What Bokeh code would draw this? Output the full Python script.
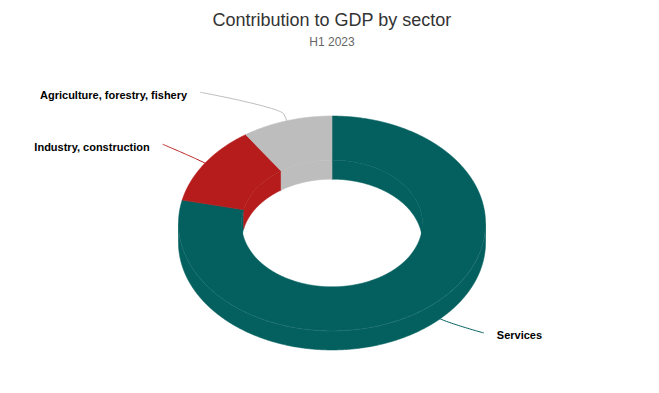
import numpy as np
from bokeh.plotting import figure
from bokeh.models import Range1d, ColumnDataSource
from bokeh.core.properties import value
from bokeh.embed import file_html
from bokeh.resources import INLINE

# ---- data ----
title_text = "Contribution to GDP by sector"
subtitle_text = "H1 2023"
sectors = ["Services", "Industry, construction", "Agriculture, forestry, fishery"]
shares = [78.5, 12.0, 9.5]
colors = ["#03605F", "#B71C1C", "#BDBDBD"]

# ---- layout / style ----
W, H = 643, 377
FONT = "Liberation Sans"
cx, cy = 331.5, 223.0       # donut centre (page px)
RO, RI = 153.5, 90.5        # outer / inner radius
K = 0.70                    # vertical squash of the tilted donut
D = 19.0                    # visible depth of the side wall
label_offset = {            # connector end relative to the break point
    "Services": (49.6, 17.3),
    "Industry, construction": (-34.1, -14.9),
    "Agriculture, forestry, fishery": (-83.8, -21.9),
}
GAP = 13
BASE_FIX = 0.38             # baseline correction (em)

p = figure(width=W, height=H, output_backend="svg", toolbar_location=None,
           x_range=Range1d(0, W), y_range=Range1d(H, 0),
           min_border=0, x_axis_location=None, y_axis_location=None)
p.xgrid.visible = False
p.ygrid.visible = False
p.outline_line_color = None
p.background_fill_color = "white"
p.border_fill_color = "white"


def pt(r, th, z=0.0):
    t = np.radians(th)
    return cx + r * np.sin(t), cy - K * r * np.cos(t) + z


def arc(r, a, b, z=0.0):
    n = max(3, int(abs(b - a) * 2) + 2)
    th = np.linspace(a, b, n)
    x, y = pt(r, th, z)
    return list(x), list(y)


def clip(a, b, lo, hi):
    s, e = max(a, lo), min(b, hi)
    return (s, e) if e > s else None


total = float(sum(shares))
bounds = np.concatenate([[0.0], np.cumsum(shares) / total * 360.0])

iw_x, iw_y, iw_c = [], [], []
ow_x, ow_y, ow_c = [], [], []
tf_x, tf_y, tf_c = [], [], []
for i, c in enumerate(colors):
    a, b = bounds[i], bounds[i + 1]
    for lo, hi in ((0, 90), (270, 360)):
        seg = clip(a, b, lo, hi)
        if seg:
            x1, y1 = arc(RI, seg[0], seg[1], 0)
            x2, y2 = arc(RI, seg[1], seg[0], D)
            iw_x.append(x1 + x2); iw_y.append(y1 + y2); iw_c.append(c)
    seg = clip(a, b, 90, 270)
    if seg:
        x1, y1 = arc(RO, seg[0], seg[1], 0)
        x2, y2 = arc(RO, seg[1], seg[0], D)
        ow_x.append(x1 + x2); ow_y.append(y1 + y2); ow_c.append(c)
    x1, y1 = arc(RO, a, b)
    x2, y2 = arc(RI, b, a)
    tf_x.append(x1 + x2); tf_y.append(y1 + y2); tf_c.append(c)

for xs, ys, cs in ((iw_x, iw_y, iw_c), (ow_x, ow_y, ow_c), (tf_x, tf_y, tf_c)):
    src = ColumnDataSource(dict(xs=xs, ys=ys, c=cs))
    p.patches("xs", "ys", source=src, fill_color="c", line_color="c", line_width=0.6)

# faint seams along top-face edges
sx, sy = arc(RO, 90, 270)
p.line(sx, sy, line_color="white", line_alpha=0.12, line_width=0.7)
sx, sy = arc(RI, -90, 90)
p.line(sx, sy, line_color="white", line_alpha=0.08, line_width=0.7)

# connectors + labels
for i, name in enumerate(sectors):
    a, b = bounds[i], bounds[i + 1]
    m = (a + b) / 2.0
    z = 0.15 * D if np.cos(np.radians(m)) < 0 else 0.0
    ex, ey = pt(RO, m, z)
    bx, by = pt(RO + 10, m, z)
    dx, dy = label_offset[name]
    lx, ly = bx + dx, by + dy
    c1x, c1y = lx, ly
    c2x, c2y = 2 * bx - ex, 2 * by - ey
    t = np.linspace(0, 1, 40)
    qx = (1 - t) ** 3 * lx + 3 * (1 - t) ** 2 * t * c1x + 3 * (1 - t) * t ** 2 * c2x + t ** 3 * bx
    qy = (1 - t) ** 3 * ly + 3 * (1 - t) ** 2 * t * c1y + 3 * (1 - t) * t ** 2 * c2y + t ** 3 * by
    xs = list(qx) + [ex]
    ys = list(qy) + [ey]
    p.line(xs, ys, line_color=colors[i], line_width=1)
    right = np.sin(np.radians(m)) > 0
    tx = lx + GAP if right else lx - GAP
    p.text(x=[tx], y=[ly + 6.5 - BASE_FIX * 11], text=[name], text_font=value(FONT),
           text_font_size="11px", text_font_style="bold", text_color="#000000",
           text_align="left" if right else "right", text_baseline="alphabetic")

# title and subtitle
p.text(x=[331.5], y=[26.7 - BASE_FIX * 18], text=[title_text], text_font=value(FONT),
       text_font_size="18px", text_color="#333333", text_align="center",
       text_baseline="alphabetic")
p.text(x=[331.5], y=[45.7 - BASE_FIX * 12], text=[subtitle_text], text_font=value(FONT),
       text_font_size="12px", text_color="#666666", text_align="center",
       text_baseline="alphabetic")

open("out.html", "w").write(file_html(p, INLINE))
